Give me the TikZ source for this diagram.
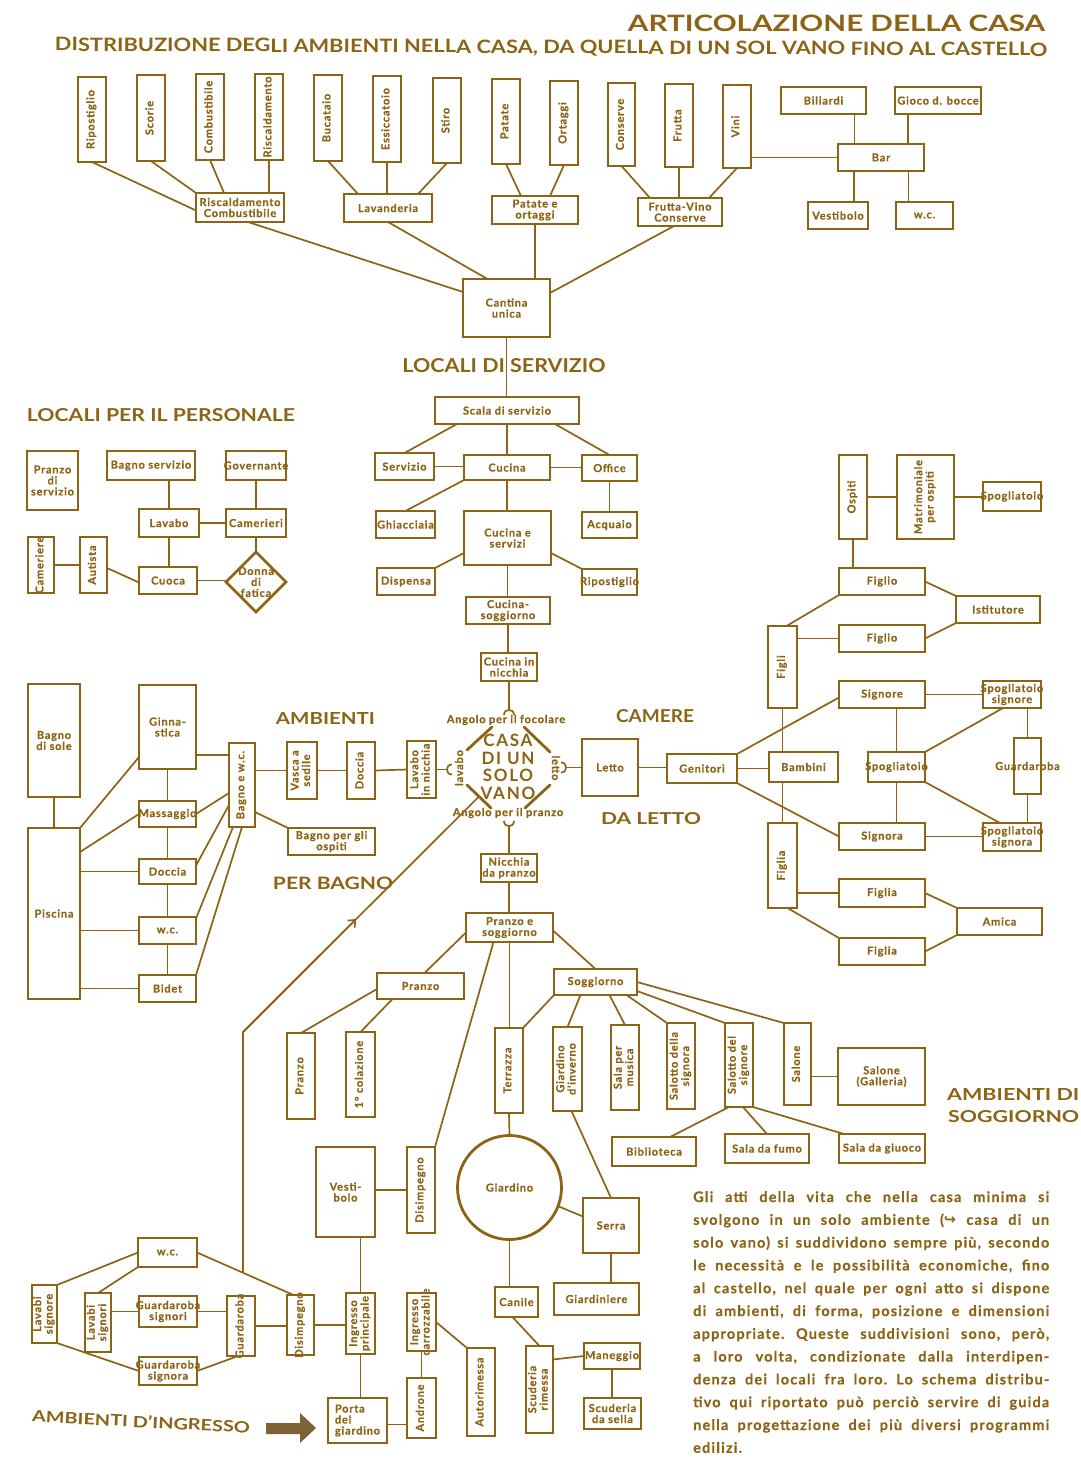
\documentclass[tikz,border=0pt]{standalone}
\usepackage{fontspec}
\usepackage{graphicx}
\setmainfont{Lato}
\newfontfamily\lblfont{Lato}[LetterSpace=7,FakeBold=0.5]
\newfontfamily\casafont{Lato}[LetterSpace=10]
\newfontfamily\parafont{Lato}[LetterSpace=8,FakeBold=0.3]
\newfontfamily\symfont{DejaVu Sans}
\usetikzlibrary{calc,arrows.meta,shapes.geometric}
\definecolor{ink}{RGB}{140,100,20}
\definecolor{arrowfill}{RGB}{125,98,52}
\newcommand\vt[1]{\rotatebox{90}{\begin{tabular}{@{}c@{}}#1\end{tabular}}}
\newcommand\bx[7][]{%
  \node[box,minimum width={(#5-#3)*1pt},minimum height={(#6-#4)*1pt}] (#2) at ({(#3+#5)/2},{(#4+#6)/2}) {};%
  \node[lbl,#1] (#2t) at (#2.center) {#7};}
\tikzset{
  box/.style={draw=ink,line width=2.8pt,inner sep=0pt,outer sep=0pt},
  lbl/.style={text=ink,inner sep=0pt,align=center,font=\lblfont\bfseries\fontsize{11}{11}\selectfont},
  con/.style={draw=ink,line width=1.7pt},
  oct/.style={draw=ink,line width=2.8pt,line cap=round},
  hd/.style={text=ink,inner sep=0pt,font=\bfseries},
}
\begin{document}
\begin{tikzpicture}[x=1pt,y=-1pt]
\fill[white] (0,0) rectangle (1081,1468);
\useasboundingbox (0,0) rectangle (1081,1468);

% ---------- headings ----------
\node[hd] (title) at (836.5,23.5) {\resizebox{417pt}{16.5pt}{ARTICOLAZIONE DELLA CASA}};
\node[hd,anchor=base,rotate=-0.3] (subt) at (551,53.5) {\resizebox{992pt}{13.5pt}{DISTRIBUZIONE DEGLI AMBIENTI NELLA CASA, DA QUELLA DI UN SOL VANO FINO AL CASTELLO}};
\node[hd] (hserv) at (504,366) {\resizebox{203pt}{14pt}{LOCALI DI SERVIZIO}};
\node[hd] (hpers) at (161,415.5) {\resizebox{268pt}{13pt}{LOCALI PER IL PERSONALE}};
\node[hd] (hamb1) at (325.5,718.5) {\resizebox{99pt}{12pt}{AMBIENTI}};
\node[hd] (hbag) at (333,883) {\resizebox{120pt}{12.5pt}{PER BAGNO}};
\node[hd] (hcam) at (655,716.5) {\resizebox{78pt}{13pt}{CAMERE}};
\node[hd] (hlet) at (651,819) {\resizebox{100pt}{12pt}{DA LETTO}};
\node[hd,anchor=west] (hamb2) at (947,1094) {\resizebox{132pt}{12pt}{AMBIENTI DI}};
\node[hd,anchor=west] (hsog) at (948,1116.5) {\resizebox{131pt}{12pt}{SOGGIORNO}};
\node[hd,rotate=-2.9] (hing) at (141,1421.5) {\resizebox{218pt}{12pt}{AMBIENTI D'INGRESSO}};

% ---------- cellar row ----------
\bx{ripA}{78}{77}{106}{162}{\vt{Ripostiglio}}
\bx{scor}{137}{75}{165}{161}{\vt{Scorie}}
\bx{comb}{196}{74}{224}{160}{\vt{Combustibile}}
\bx{risc}{255}{74}{283}{160}{\vt{Riscaldamento}}
\bx{buca}{314}{75}{342}{161}{\vt{Bucataio}}
\bx{essi}{373}{76}{401}{162}{\vt{Essiccatoio}}
\bx{stir}{433}{78}{461}{163}{\vt{Stiro}}
\bx{pata}{492}{79}{520}{164}{\vt{Patate}}
\bx{orta}{550}{81}{578}{165}{\vt{Ortaggi}}
\bx{cons}{608}{83}{635}{166}{\vt{Conserve}}
\bx{frut}{665}{84}{693}{167}{\vt{Frutta}}
\bx{vini}{723}{85}{751}{168}{\vt{Vini}}
\bx{bili}{781}{87}{866}{114}{Biliardi}
\bx{gioc}{895}{87}{981}{114}{Gioco d. bocce}
\bx{bar}{838}{144}{924}{171}{Bar}
\bx{vest}{808}{202}{868}{229}{Vestibolo}
\bx{wcA}{896}{202}{953}{229}{w.c.}
\bx{rc}{196}{193}{284}{222}{Riscaldamento\\Combustibile}
\bx{lav}{344}{194}{432}{222}{Lavanderia}
\bx{peo}{492}{196}{578}{224}{Patate e\\ortaggi}
\bx{fvc}{638}{198}{722}{226}{Frutta-Vino\\Conserve}
\bx{cant}{463}{279}{550}{337}{Cantina\\unica}

\draw[con] (ripA.south) -- ([yshift=-3pt]rc.west);
\draw[con] (scor.south) -- (rc.north west);
\draw[con] (comb.south) -- ([xshift=-16pt]rc.north);
\draw[con] (risc.south) -- (risc.south |- rc.north);
\draw[con] (buca.south) -- ([xshift=-30pt]lav.north);
\draw[con] (essi.south) -- (essi.south |- lav.north);
\draw[con] (stir.south) -- ([xshift=30pt]lav.north);
\draw[con] (pata.south) -- ([xshift=-14pt]peo.north);
\draw[con] (orta.south) -- ([xshift=15pt]peo.north);
\draw[con] (cons.south) -- ([xshift=-30pt]fvc.north);
\draw[con] (frut.south) -- (frut.south |- fvc.north);
\draw[con] (vini.south) -- ([xshift=29pt]fvc.north);
\draw[con] (bar.west -| vini.east) -- (bar.west);
\draw[con] ([xshift=31pt]bili.south) -- ([xshift=31pt]bili.south |- bar.north);
\draw[con] ([xshift=-30pt]gioc.south) -- ([xshift=-30pt]gioc.south |- bar.north);
\draw[con] ([xshift=16pt]vest.north) -- ([xshift=16pt]vest.north |- bar.south);
\draw[con] ([xshift=-16pt]wcA.north) -- ([xshift=-16pt]wcA.north |- bar.south);
\draw[con] ([xshift=8pt]rc.south) -- ([yshift=16pt]cant.west);
\draw[con] (lav.south) -- ([xshift=-19pt]cant.north);
\draw[con] (peo.south) -- (peo.south |- cant.north);
\draw[con] ([xshift=-6pt]fvc.south) -- ([yshift=15pt]cant.east);

% ---------- service ----------
\bx{scala}{435}{397}{579}{424}{Scala di servizio}
\bx{serv}{375}{453}{434}{480}{Servizio}
\bx{cuc}{464}{455}{550}{480}{Cucina}
\bx{offi}{582}{455}{637}{481}{Office}
\bx{ghia}{376}{511}{435}{538}{Ghiacciaia}
\bx{ces}{464}{511}{551}{565}{Cucina e\\servizi}
\bx{acqu}{582}{512}{637}{538}{Acquaio}
\bx{disp}{377}{568}{435}{595}{Dispensa}
\bx{ripB}{582}{569}{637}{595}{Ripostiglio}
\bx{csog}{466}{597}{550}{624}{Cucina-\\soggiorno}
\bx{cnic}{481}{653}{537}{681}{Cucina in\\nicchia}

\draw[con] (cant.south) -- (cant.south |- scala.north);
\draw[con] ([xshift=-50pt]scala.south) -- (serv.north);
\draw[con] (scala.south) -- (scala.south |- cuc.north);
\draw[con] ([xshift=48pt]scala.south) -- (offi.north);
\draw[con] (serv.east) -- (serv.east -| cuc.west);
\draw[con] (cuc.east) -- (cuc.east -| offi.west);
\draw[con] (cuc.south west) -- (ghia.north);
\draw[con] (cuc.south) -- (cuc.south |- ces.north);
\draw[con] (offi.south) -- (offi.south |- acqu.north);
\draw[con] ([yshift=-15pt]ces.west) -- (disp.north east);
\draw[con] ([yshift=-15pt]ces.east) -- (ripB.north west);
\draw[con] (ces.south) -- (ces.south |- csog.north);
\draw[con] (csog.south) -- (csog.south |- cnic.north);

% ---------- personnel ----------
\bx{pds}{27}{451}{78}{510}{Pranzo\\di\\servizio}
\bx{bsv}{107}{451}{195}{480}{Bagno servizio}
\bx{gov}{226}{451}{286}{480}{Governante}
\bx{lavb}{139}{509}{199}{537}{Lavabo}
\bx{camr}{226}{509}{286}{537}{Camerieri}
\bx{came}{28}{537}{54}{593}{\vt{Cameriere}}
\bx{auti}{80}{537}{107}{593}{\vt{Autista}}
\bx{cuoc}{139}{567}{197}{594}{Cuoca}
\node[box,diamond,minimum width=60pt,minimum height=60pt] (donn) at (256,582) {};
\node[lbl] (donnt) at (donn.center) {Donna\\di\\fatica};

\draw[con] (lavb.north |- bsv.south) -- (lavb.north);
\draw[con] (lavb.south) -- (lavb.south |- cuoc.north);
\draw[con] (lavb.east) -- (lavb.east -| camr.west);
\draw[con] (gov.south) -- (camr.north);
\draw[con] (camr.south) -- (donn.north);
\draw[con] (cuoc.east) -- (cuoc.east -| donn.west);
\draw[con] (came.east) -- (auti.west);
\draw[con] ([yshift=-3pt]auti.east) -- ([yshift=-2pt]cuoc.west);

% ---------- bath ----------
\bx{bsol}{28}{684}{80}{797}{Bagno\\di sole}
\bx{pisc}{28}{828}{80}{999}{Piscina}
\bx{ginn}{139}{685}{196}{769}{Ginna-\\stica}
\bx{mass}{139}{801}{196}{827}{Massaggio}
\bx{docA}{139}{859}{196}{884}{Doccia}
\bx{wcB}{139}{917}{196}{944}{w.c.}
\bx{bide}{139}{975}{196}{1002}{Bidet}
\bx{bwc}{229}{743}{255}{827}{\vt{Bagno e w.c.}}
\bx{vasc}{287}{742}{317}{799}{\vt{Vasca a\\sedile}}
\bx{docB}{347}{742}{375}{799}{\vt{Doccia}}
\bx{lavn}{407}{741}{436}{798}{\vt{Lavabo\\in nicchia}}
\bx{bosp}{288}{828}{375}{855}{Bagno per gli\\ospiti}

\draw[con] (bsol.south) -- (pisc.north);
\draw[con] (pisc.north east) -- ([yshift=12pt]ginn.south west);
\draw[con] ([yshift=-24pt]pisc.north east) -- (mass.west);
\draw[con] (pisc.east |- docA.west) -- (docA.west);
\draw[con] (pisc.east |- wcB.west) -- (wcB.west);
\draw[con] (pisc.east |- bide.west) -- (bide.west);
\draw[con] (ginn.south) -- (mass.north);
\draw[con] (mass.south) -- (docA.north);
\draw[con] (docA.south) -- (wcB.north);
\draw[con] (wcB.south) -- (bide.north);
\draw[con] ([yshift=-28pt]ginn.east) -- ([yshift=-28pt]ginn.east -| bwc.west);
\draw[con] (mass.east) -- ([yshift=-8pt]bwc.west);
\draw[con] ([yshift=6pt]docA.east) -- ([yshift=-20pt]bwc.west);
\draw[con] ([yshift=12pt]wcB.east) -- ([xshift=-9pt]bwc.south);
\draw[con] (bide.north east) -- (bwc.south);
\draw[con] (bwc.east |- vasc.west) -- (vasc.west);
\draw[con] (vasc.east) -- (docB.west);
\draw[con] (docB.east) -- (lavn.west);
\draw[con] ([yshift=-27pt]bwc.east) -- (bosp.north west);

% ---------- one-room house ----------
\bx{letto}{582}{739}{638}{796}{Letto}
\bx{npra}{481}{854}{537}{882}{Nicchia\\da pranzo}
\node[text=ink,inner sep=0pt,align=center,font=\casafont\bfseries\fontsize{17}{17.5}\selectfont] (casa) at (508,767) {CASA\\DI UN\\SOLO\\VANO};
\node[lbl] (afoc) at (506,720) {Angolo per il focolare};
\node[lbl] (apra) at (508,813) {Angolo per il pranzo};
\node[lbl,rotate=90] (llav) at (459,768) {lavabo};
\node[lbl,rotate=-90] (llet) at (556,768) {letto};
\coordinate (oa1) at (467,750); \coordinate (oa2) at (492,727);
\coordinate (ob1) at (524,727); \coordinate (ob2) at (550,752);
\coordinate (oc1) at (467,785); \coordinate (oc2) at (491,808);
\coordinate (od1) at (550,785); \coordinate (od2) at (525,808);
\draw[oct] (oa1) -- (oa2);
\draw[oct] (ob1) -- (ob2);
\draw[oct] (oc1) -- (oc2);
\draw[oct] (od1) -- (od2);
\coordinate (fT) at ([yshift=-29pt]cnic.south);
\coordinate (fB) at ([yshift=28pt]npra.north);
\coordinate (fL) at ([xshift=11pt]lavn.east);
\coordinate (fR) at ([xshift=-16pt]letto.west);
\draw[con] (cnic.south) -- (fT);
\draw[con] (npra.north) -- (fB);
\draw[con] (lavn.east) -- (fL);
\draw[con] (letto.west) -- (fR);
\draw[con] ($(fT)+(-5,5)$) .. controls ($(fT)+(-5,1)$) and ($(fT)+(-2,0)$) .. (fT) .. controls ($(fT)+(2,0)$) and ($(fT)+(5,1)$) .. ($(fT)+(5,5)$);
\draw[con] ($(fB)+(-5,-5)$) .. controls ($(fB)+(-5,-1)$) and ($(fB)+(-2,0)$) .. (fB) .. controls ($(fB)+(2,0)$) and ($(fB)+(5,-1)$) .. ($(fB)+(5,-5)$);
\draw[con] ($(fL)+(5,-5)$) .. controls ($(fL)+(1,-5)$) and ($(fL)+(0,-2)$) .. (fL) .. controls ($(fL)+(0,2)$) and ($(fL)+(1,5)$) .. ($(fL)+(5,5)$);
\draw[con] ($(fR)+(-5,-5)$) .. controls ($(fR)+(-1,-5)$) and ($(fR)+(0,-2)$) .. (fR) .. controls ($(fR)+(0,2)$) and ($(fR)+(-1,5)$) .. ($(fR)+(-5,5)$);

% ---------- bedrooms ----------
\bx{ospi}{839}{455}{867}{539}{\vt{Ospiti}}
\bx{matr}{897}{455}{954}{539}{\vt{Matrimoniale\\per ospiti}}
\bx{spoA}{983}{482}{1041}{511}{Spogliatoio}
\bx{figo1}{839}{568}{925}{595}{Figlio}
\bx{isti}{956}{596}{1040}{623}{Istitutore}
\bx{figo2}{839}{625}{925}{652}{Figlio}
\bx{figi}{768}{626}{797}{708}{\vt{Figli}}
\bx{sigr}{839}{681}{925}{708}{Signore}
\bx{spsr}{983}{681}{1041}{708}{Spogliatoio\\signore}
\bx{geni}{667}{754}{737}{783}{Genitori}
\bx{bamb}{769}{752}{838}{782}{Bambini}
\bx{spoB}{868}{752}{925}{782}{Spogliatoio}
\bx{guar}{1014}{738}{1041}{794}{Guardaroba}
\bx{sigra}{839}{823}{925}{850}{Signora}
\bx{spsa}{983}{823}{1041}{851}{Spogliatoio\\signora}
\bx{figa}{768}{823}{797}{908}{\vt{Figlia}}
\bx{fia1}{839}{879}{925}{907}{Figlia}
\bx{amic}{957}{908}{1042}{935}{Amica}
\bx{fia2}{839}{938}{925}{965}{Figlia}

\draw[con] (ospi.east) -- (ospi.east -| matr.west);
\draw[con] (matr.east) -- (matr.east -| spoA.west);
\draw[con] (ospi.south) -- (ospi.south |- figo1.north);
\draw[con] (figo1.east) -- (isti.north west);
\draw[con] (figo2.east) -- (isti.south west);
\draw[con] ([xshift=4pt]figi.north) -- (figo1.south west);
\draw[con] (figi.east |- figo2.west) -- (figo2.west);
\draw[con] (figi.south) -- (figi.south |- bamb.north);
\draw[con] (letto.east) -- (letto.east -| geni.west);
\draw[con] (geni.east) -- (geni.east -| bamb.west);
\draw[con] (geni.north east) -- ([yshift=-3pt]sigr.west);
\draw[con] (geni.south east) -- (sigra.west);
\draw[con] (sigr.east) -- (sigr.east -| spsr.west);
\draw[con] (spoB.north |- sigr.south) -- (spoB.north);
\draw[con] (spoB.south) -- (spoB.south |- sigra.north);
\draw[con] (spoB.north east) -- ([xshift=-9pt]spsr.south);
\draw[con] (spoB.south east) -- ([xshift=-12pt]spsa.north);
\draw[con] (sigra.east) -- (sigra.east -| spsa.west);
\draw[con] (guar.north |- spsr.south) -- (guar.north);
\draw[con] (guar.south) -- (guar.south |- spsa.north);
\draw[con] (figa.north |- bamb.south) -- (figa.north);
\draw[con] (figa.east |- fia1.west) -- (fia1.west);
\draw[con] ([xshift=5pt]figa.south) -- (fia2.north west);
\draw[con] (fia1.east) -- (amic.north west);
\draw[con] (fia2.east) -- (amic.south west);

% ---------- living ----------
\bx{pes}{466}{913}{553}{942}{Pranzo e\\soggiorno}
\bx{praA}{377}{973}{464}{999}{Pranzo}
\bx{sogg}{554}{969}{637}{995}{Soggiorno}
\bx{praV}{287}{1033}{315}{1119}{\vt{Pranzo}}
\bx{cola}{346}{1032}{375}{1117}{\vt{1° colazione}}
\bx{terr}{495}{1028}{523}{1113}{\vt{Terrazza}}
\bx{ginv}{553}{1027}{582}{1111}{\vt{Giardino\\d'inverno}}
\bx{musi}{611}{1025}{639}{1110}{\vt{Sala per\\musica}}
\bx{ssig}{667}{1023}{695}{1109}{\vt{Salotto della\\signora}}
\bx{ssgr}{725}{1023}{753}{1107}{\vt{Salotto del\\signore}}
\bx{salo}{784}{1023}{811}{1105}{\vt{Salone}}
\bx{gall}{838}{1048}{925}{1105}{Salone\\(Galleria)}
\bx{bibl}{612}{1137}{696}{1166}{Biblioteca}
\bx{fumo}{725}{1134}{809}{1163}{Sala da fumo}
\bx{giuo}{839}{1134}{925}{1163}{Sala da giuoco}
\node[box,circle,minimum size=104pt] (giar) at (509.5,1187.5) {};
\node[lbl] (giart) at (giar.center) {Giardino};

\draw[con] (npra.south) -- (npra.south |- pes.north);
\draw[con] ([yshift=-5pt]pes.west) -- ([xshift=4pt]praA.north);
\draw[con] (pes.south) -- (pes.south |- terr.north);
\draw[con] ([yshift=-3pt]pes.east) -- (sogg.north);
\draw[con] ([yshift=-3pt]praA.west) -- (praV.north);
\draw[con] ([xshift=-28pt]praA.south) -- (cola.north);
\draw[con] (sogg.south west) -- (terr.north east);
\draw[con] ([xshift=-15pt]sogg.south) -- (ginv.north);
\draw[con] ([xshift=14pt]sogg.south) -- (musi.north);
\draw[con] ([xshift=31pt]sogg.south) -- (ssig.north west);
\draw[con] ([yshift=-9pt]sogg.east) -- (ssgr.north west);
\draw[con] (sogg.east) -- (salo.north west);
\draw[con] (salo.east |- gall.west) -- (gall.west);
\draw[con] ([xshift=-10pt]ssgr.south) -- ([xshift=16pt]bibl.north);
\draw[con] ([xshift=4pt]ssgr.south) -- (fumo.north);
\draw[con] (ssgr.south east) -- ([xshift=5pt]giuo.north west);
\draw[con] (terr.south) -- (giar.north);

% ---------- entrance and garden ----------
\bx{vesti}{316}{1147}{375}{1237}{Vesti-\\bolo}
\bx{disA}{407}{1147}{435}{1233}{\vt{Disimpegno}}
\bx{serr}{583}{1198}{639}{1253}{Serra}
\bx{cani}{495}{1287}{538}{1317}{Canile}
\bx{gdin}{554}{1283}{639}{1315}{Giardiniere}
\bx{ingp}{346}{1293}{375}{1354}{\vt{Ingresso\\principale}}
\bx{ingc}{407}{1293}{436}{1351}{\vt{Ingresso\\carrozzabile}}
\bx{auto}{467}{1348}{495}{1436}{\vt{Autorimessa}}
\bx{scur}{526}{1346}{553}{1433}{\vt{Scuderia\\rimessa}}
\bx{mane}{584}{1343}{640}{1369}{Maneggio}
\bx{scus}{584}{1398}{641}{1429}{Scuderia\\da sella}
\bx[align=left]{port}{328}{1398}{387}{1443}{Porta\\del\\giardino}
\bx{andr}{407}{1378}{436}{1438}{\vt{Androne}}
\bx{wcC}{138}{1238}{197}{1267}{w.c.}
\bx{lsge}{32}{1285}{57}{1343}{\vt{Lavabi\\signore}}
\bx{lsgi}{85}{1293}{111}{1352}{\vt{Lavabi\\signori}}
\bx{gsgi}{139}{1296}{197}{1327}{Guardaroba\\signori}
\bx{gsga}{139}{1357}{197}{1385}{Guardaroba\\signora}
\bx{guaB}{227}{1296}{255}{1356}{\vt{Guardaroba}}
\bx{disB}{287}{1295}{314}{1355}{\vt{Disimpegno}}

\draw[con] ([xshift=4pt]ginv.south) -- (serr.north);
\draw[con] ([xshift=-16pt]pes.south) -- (disA.north east);
\draw[con] (vesti.east |- disA.west) -- (disA.west);
\draw[con] (ingp.north |- vesti.south) -- (ingp.north);
\draw[con] (ingp.south) -- (ingp.south |- port.north);
\draw[con] ([yshift=-4pt]port.east) -- ([yshift=-4pt]port.east -| andr.west);
\draw[con] (andr.north) -- (andr.north |- ingc.south);
\draw[con] (ingc.east) -- (auto.north west);
\draw[con] (giar.-21) -- ([yshift=9pt]serr.west);
\draw[con] (giar.south) -- (giar.south |- cani.north);
\draw[con] (serr.south) -- (serr.south |- gdin.north);
\draw[con] ([xshift=-4pt]cani.south) -- (scur.north);
\draw[con] ([yshift=30pt]scur.east) -- (mane.west);
\draw[con] (mane.south) -- (mane.south |- scus.north);
\draw[con] (disB.east) -- (disB.east -| ingp.west);
\draw[con] (guaB.east) -- (guaB.east -| disB.west);
\draw[con] (gsgi.east) -- (gsgi.east -| guaB.west);
\draw[con] (gsga.east) -- ([xshift=-3pt]guaB.south);
\draw[con] (lsgi.east |- gsgi.west) -- (gsgi.west);
\draw[con] (lsge.north east) -- (wcC.west);
\draw[con] (lsgi.north) -- (wcC.south west);
\draw[con] (lsge.south east) -- (gsga.west);
\draw[con] (wcC.east) -- ([xshift=-7pt]disB.north);

% long connector to the one-room house
\coordinate (jn) at ($(wcC.east)!0.477!([xshift=-7pt]disB.north)$);
\coordinate (bend) at (jn |- 0,1032);
\coordinate (aend) at ($(oc1)!0.5!(oc2)$);
\coordinate (amid) at ($(bend)!0.48!(aend)$);
\draw[con] (jn) -- (bend) -- (aend);
\draw[con,-{Straight Barb[length=6pt,width=10pt]}] (bend) -- (amid);

% big pointer arrow
\fill[arrowfill] (266,1423) -- (300,1423) -- (300,1413) -- (316,1428) -- (300,1443) -- (300,1434) -- (266,1434) -- cycle;

% ---------- paragraph ----------
\node[text=ink,inner sep=0pt,text width=356pt,align=justify,anchor=base west,font=\parafont\bfseries\fontsize{14.5}{22.8}\selectfont] (para) at (693,1202) {\frenchspacing\tolerance=10000 \hbadness=10000 \hyphenpenalty=10000
Gli atti della vita che nella casa minima si\linebreak
svolgono in un solo ambiente ({\symfont ↪} casa di un\linebreak
solo vano) si suddividono sempre più, secondo\linebreak
le necessità e le possibilità economiche, fino\linebreak
al castello, nel quale per ogni atto si dispone\linebreak
di ambienti, di forma, posizione e dimensioni\linebreak
appropriate. Queste suddivisioni sono, però,\linebreak
a loro volta, condizionate dalla interdipen-\linebreak
denza dei locali fra loro. Lo schema distribu-\linebreak
tivo qui riportato può perciò servire di guida\linebreak
nella progettazione dei più diversi programmi\linebreak
edilizi.};
\end{tikzpicture}
\end{document}
